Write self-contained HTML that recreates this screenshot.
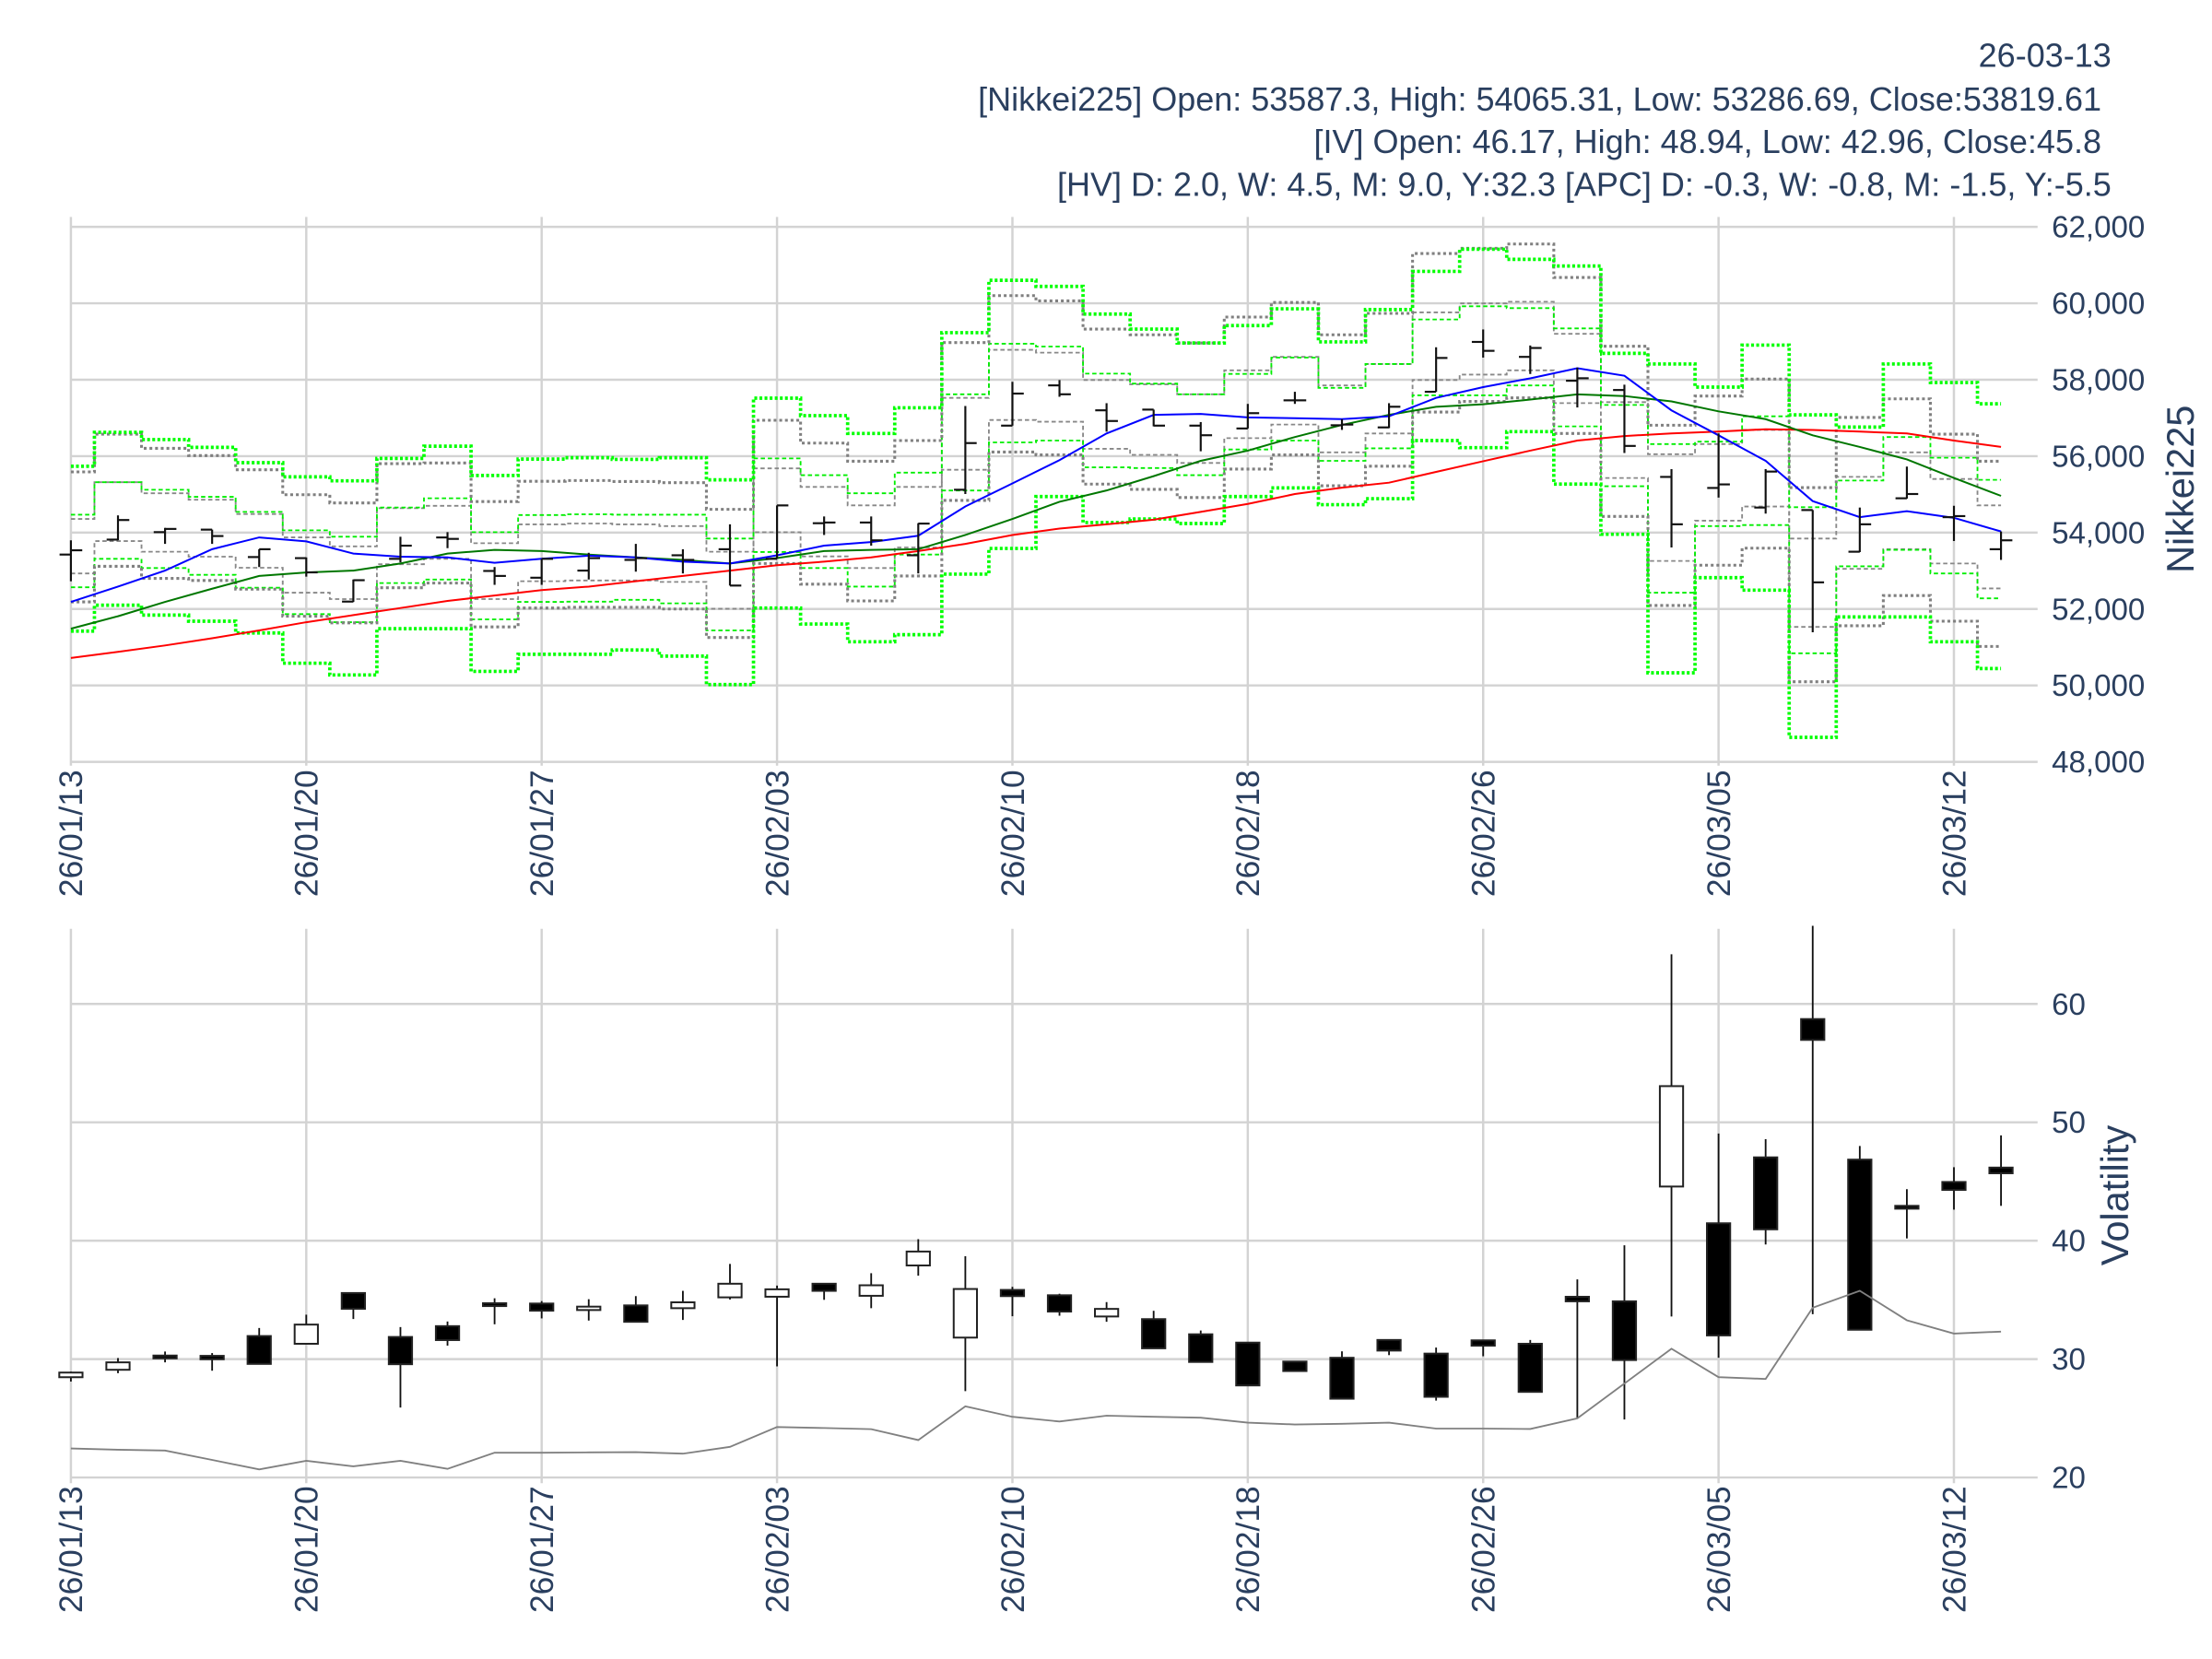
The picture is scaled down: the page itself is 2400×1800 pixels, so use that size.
<!DOCTYPE html>
<html><head><meta charset="utf-8"><style>
html,body{margin:0;padding:0;background:#fff;}
svg{display:block;}
text{font-family:"Liberation Sans",sans-serif;fill:#2a3f5f;}
</style></head><body>
<svg id="s" xmlns="http://www.w3.org/2000/svg" width="2400" height="1800" viewBox="0 0 1560 1170">
<rect width="1560" height="1170" fill="#fff"/>
<g id="grid"></g>
<g id="series"></g>
<g id="labels"></g>
<text x="1489" y="47" text-anchor="end" font-size="23.4">26-03-13</text>
<text x="1482" y="78" text-anchor="end" font-size="23.4">[Nikkei225] Open: 53587.3, High: 54065.31, Low: 53286.69, Close:53819.61</text>
<text x="1482" y="108" text-anchor="end" font-size="23.4">[IV] Open: 46.17, High: 48.94, Low: 42.96, Close:45.8</text>
<text x="1489" y="138" text-anchor="end" font-size="23.4">[HV] D: 2.0, W: 4.5, M: 9.0, Y:32.3 [APC] D: -0.3, W: -0.8, M: -1.5, Y:-5.5</text>
<text transform="translate(1547,345) rotate(-90)" text-anchor="middle" font-size="27">Nikkei225</text>
<text transform="translate(1501,843) rotate(-90)" text-anchor="middle" font-size="27">Volatility</text>
</svg>
<script>
(function(){
var NS="http://www.w3.org/2000/svg";
function el(p,t,a,txt){var e=document.createElementNS(NS,t);for(var k in a)e.setAttribute(k,a[k]);if(txt!=null)e.textContent=txt;p.appendChild(e);return e;}
var G=document.getElementById('grid'),S=document.getElementById('series'),L=document.getElementById('labels');
function X(i){return 50+33.2*i;}
function ty(z){return 160+(z-40)*0.2512;}
function b7(z){return 875+(z-177)*0.2183;}
function b8(z){return 708+(z-253)*0.2672;}
var tv=["62,000","60,000","58,000","56,000","54,000","52,000","50,000","48,000"];
for(var k=0;k<8;k++){var y=160+k*53.9;el(G,'line',{x1:50,x2:1437,y1:y,y2:y,stroke:'#d3d3d3','stroke-width':1.6});
el(L,'text',{x:1447,y:y+7.5,'font-size':21.5},tv[k]);}
var bv=["60","50","40","30","20"];
for(var k=0;k<5;k++){var y=708+k*83.5;el(G,'line',{x1:50,x2:1437,y1:y,y2:y,stroke:'#d3d3d3','stroke-width':1.6});
el(L,'text',{x:1447,y:y+7.5,'font-size':21.5},bv[k]);}
var dl=["26/01/13","26/01/20","26/01/27","26/02/03","26/02/10","26/02/18","26/02/26","26/03/05","26/03/12"];
for(var k=0;k<9;k++){var x=X(k*5);
el(G,'line',{x1:x,x2:x,y1:153,y2:540,stroke:'#d3d3d3','stroke-width':1.6});
el(G,'line',{x1:x,x2:x,y1:655,y2:1046,stroke:'#d3d3d3','stroke-width':1.6});
el(L,'text',{transform:'translate('+(x+8)+',543) rotate(-90)','text-anchor':'end','font-size':23},dl[k]);
el(L,'text',{transform:'translate('+(x+8)+',1048) rotate(-90)','text-anchor':'end','font-size':23},dl[k]);}
var GU=[712,617,637,659,702,742,753,690,656,738,692,688,693,688,750,521,570,620,548,337,190,207,285,327,366,317,270,363,272,165,103,131,150,395,425,490,372,568,602,425,477,537];
var YU=[728,622,662,682,722,792,815,705,703,811,754,752,755,758,833,583,647,698,640,365,233,248,327,343,366,293,252,343,283,115,100,88,182,375,597,515,467,772,575,523,622,698];
var gu=[848,757,778,798,840,892,910,828,802,897,849,847,848,848,915,690,737,788,730,510,368,376,452,480,510,453,407,492,425,300,263,268,325,540,650,643,572,827,752,630,688,750];
var yu=[860,757,788,806,846,912,937,830,823,928,875,873,875,880,952,718,770,822,770,520,385,393,470,482,510,443,405,485,425,280,255,250,340,532,678,650,610,915,742,673,748,822];
var yl=[1013,922,952,966,997,1067,1085,987,972,1085,1035,1033,1033,1037,1112,897,965,998,940,722,582,587,663,680,703,633,595,673,620,470,455,443,535,745,978,865,825,1163,1000,945,985,1055];
var gl=[1052,972,998,1017,1053,1127,1150,1040,1030,1142,1093,1092,1087,1097,1173,953,998,1050,960,780,645,640,715,717,737,665,640,697,662,513,513,485,600,768,1067,880,877,1237,993,947,1013,1083];
var YL=[1093,993,1027,1033,1057,1133,1152,1053,1040,1163,1110,1108,1108,1113,1193,985,1043,1090,1020,808,672,680,762,777,800,720,680,767,712,560,530,520,620,853,1103,990,942,1317,1160,1075,1147,1218];
var GL=[1175,1102,1130,1147,1180,1265,1298,1168,1168,1288,1240,1240,1228,1245,1325,1110,1155,1205,1185,1015,943,797,870,860,873,797,773,820,803,640,660,615,762,903,1292,1025,1060,1473,1135,1135,1205,1280];
function step(arr,style){var d='';for(var i=0;i<arr.length;i++){var y=ty(arr[i]).toFixed(1);var x0=i==0?X(0):X(i)-16.6,x1=i==arr.length-1?X(i):X(i)+16.6;
d+=(i==0?'M':'L')+x0.toFixed(1)+','+y+'L'+x1.toFixed(1)+','+y;}
style.d=d;style.fill='none';el(S,'path',style);}
var thinG={stroke:'#00ee00','stroke-width':1.2,'stroke-dasharray':'3,2'},thinY={stroke:'#888','stroke-width':1.2,'stroke-dasharray':'3,2'};
function cp(o){var r={};for(var k in o)r[k]=o[k];return r;}
step(yu,cp(thinY));step(yl,cp(thinY));step(gu,cp(thinG));step(gl,cp(thinG));
var thkY={stroke:'#808080','stroke-width':2,'stroke-dasharray':'2,2'},thkG={stroke:'#00ff00','stroke-width':2.4,'stroke-dasharray':'2,1.6'};
step(YU,cp(thkY));step(YL,cp(thkY));step(GU,cp(thkG));step(GL,cp(thkG));
function line(arr,f,col,w){var p=arr.map(function(v,i){return X(i).toFixed(1)+','+f(v).toFixed(1);}).join(' ');
el(S,'polyline',{points:p,fill:'none',stroke:col,'stroke-width':w});}
var red=[1250,1233,1215,1195,1173,1150,1130,1110,1090,1075,1060,1050,1035,1020,1005,990,980,968,950,930,905,887,875,862,840,818,790,772,758,728,698,668,640,627,620,615,608,610,615,620,640,658];
var grn=[1168,1133,1093,1056,1020,1010,1005,985,957,947,950,960,968,975,985,970,950,947,945,905,860,812,780,740,697,668,630,596,568,545,538,525,510,515,530,558,580,625,658,693,745,795];
var blu=[1093,1050,1005,945,912,923,957,966,968,983,972,963,968,980,985,962,935,925,907,825,760,695,620,568,565,575,577,580,572,520,490,465,437,458,555,625,697,810,855,838,857,895];
line(red,ty,'#ff0000',1.3);line(grn,ty,'#007700',1.3);line(blu,ty,'#0000ff',1.3);
var ohlc=[[960,920,1035,948],[918,850,920,863],[897,885,930,888],[890,890,930,908],[967,945,995,945],[970,968,1022,1010],[1092,1030,1093,1032],[972,910,982,935],[912,897,942,916],[1006,995,1045,1020],[1025,972,1045,972],
[1005,955,1030,970],[975,930,1008,970],[962,945,1013,975],[945,875,1047,1047],[972,822,972,822],[872,853,905,870],[870,853,935,920],[962,872,1013,873],[778,543,790,647],[598,475,598,508],[485,470,517,510],
[555,535,615,585],[553,553,600,598],[598,588,670,625],[606,537,606,563],[527,503,537,527],[597,580,610,595],[603,535,605,545],[503,378,503,408],[363,328,407,388],[405,373,453,380],
[472,435,547,465],[498,483,675,655],[742,720,940,875],[773,620,800,763],[828,720,845,727],[835,835,1178,1038],[952,828,953,875],[802,713,803,790],[855,823,922,852],[945,895,975,920]];
ohlc.forEach(function(o,i){var x=X(i);var a={stroke:'#111','stroke-width':1.4};
el(S,'line',Object.assign({x1:x,x2:x,y1:ty(o[1]),y2:ty(o[2])},a));
el(S,'line',Object.assign({x1:x-8,x2:x,y1:ty(o[0]),y2:ty(o[0])},a));
el(S,'line',Object.assign({x1:x,x2:x+8,y1:ty(o[3]),y2:ty(o[3])},a));});
var c7=[[603,618,600,632,0],[570,594,556,605,0],[548,553,535,570,1],[549,560,540,597,1],[485,575,459,575,1],[448,510,416,510,0],[346,397,346,430,1],[488,576,456,716,1],[453,498,438,516,1],[379,386,363,447,1],[380,403,372,428,1],[390,401,366,435,0],[386,439,356,439,1],[376,395,339,433,0],[316,360,252,367,0],[334,358,322,583,0],[316,339,316,368,1],[321,355,282,395,0],[212,257,172,290,0],[333,490,227,663,0],[336,356,326,421,1]];
var c8=[[1022,1065,1018,1076,1],[1058,1078,1040,1092,0],[1085,1162,1063,1162,1],[1125,1198,1115,1198,1],[1147,1260,1147,1260,1],[1197,1222,1197,1222,1],[1187,1295,1170,1295,1],[1140,1168,1140,1180,1],[1176,1290,1160,1300,1],[1141,1155,1141,1183,1],[1150,1277,1140,1277,1],[1026,1038,980,1345,1],[1038,1193,890,1350,1],[470,735,122,1078,0],[832,1128,595,1187,1],[658,848,610,888,1],[293,348,47,1072,1],[664,1113,628,1113,1],[786,793,742,872,1],[723,744,684,796,1],[685,700,600,786,1]];
function candle(c,i,f){var x=X(i);var t=f(c[0]),b=f(c[1]);if(b-t<2){b=t+2;}
el(S,'line',{x1:x,x2:x,y1:f(c[2]),y2:f(c[3]),stroke:'#111','stroke-width':1.2});
el(S,'rect',{x:x-8.2,y:t,width:16.4,height:b-t,fill:c[4]?'#000':'#fff',stroke:'#222','stroke-width':1.3});}
c7.forEach(function(c,i){candle(c,i,b7);});
c8.forEach(function(c,i){candle(c,i+21,b8);});
var hv7=[848,852,855,885,916,888,906,888,914,862,862,861,860,865,843,779,782,786,821,712,746];
var hv8=[1355,1340,1343,1345,1358,1363,1361,1358,1374,1374,1375,1347,1255,1163,1238,1243,1055,1010,1088,1123,1118];
var pts=hv7.map(function(v,i){return X(i).toFixed(1)+','+b7(v).toFixed(1);}).concat(hv8.map(function(v,i){return X(i+21).toFixed(1)+','+b8(v).toFixed(1);}));
el(S,'polyline',{points:pts.join(' '),fill:'none',stroke:'#808080','stroke-width':1.2});
})();
</script>
</body></html>
